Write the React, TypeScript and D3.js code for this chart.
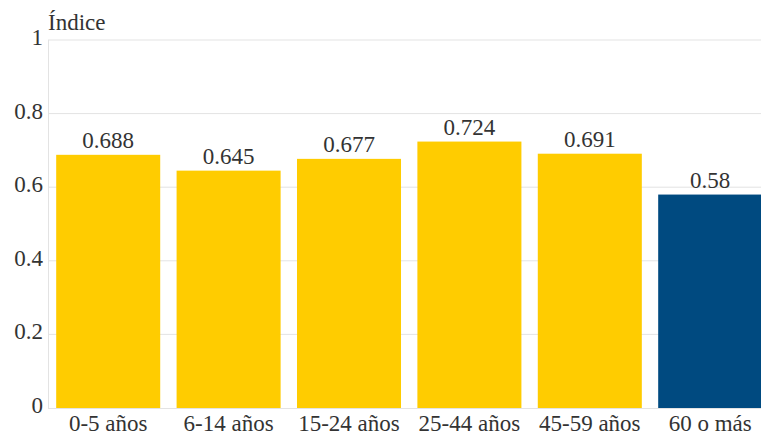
import React from "react";
import * as d3 from "d3";

const categories = ["0-5 años", "6-14 años", "15-24 años", "25-44 años", "45-59 años", "60 o más"];
const values = [0.688, 0.645, 0.677, 0.724, 0.691, 0.58];
const yTicks = [0, 0.2, 0.4, 0.6, 0.8, 1];
const tickLabels = ["0", "0.2", "0.4", "0.6", "0.8", "1"];
const colors = ["#FFCC00", "#FFCC00", "#FFCC00", "#FFCC00", "#FFCC00", "#004A80"];

const W = 761;
const H = 435;
const left = 48;
const right = 770.4;
const top = 40;
const bottom = 408;

const css = `
svg#indice-chart text.lbl { font-family: "Liberation Serif", "Times New Roman", serif !important; font-size: 23px !important; }
`;

export default function App() {
  const x = d3.scaleBand<string>().domain(categories).range([left, right]).paddingInner(0.136).paddingOuter(0.068);
  const y = d3.scaleLinear().domain([0, 1]).range([bottom, top]);
  return (
    <svg id="indice-chart" width={W} height={H} style={{ display: "block", position: "absolute", left: 0, top: 0 }}>
      <style>{css}</style>
      <rect width={W} height={H} fill="#fff" />
      {yTicks.map((t) =>
        t > 0 ? <line key={t} x1={left} x2={W} y1={y(t)} y2={y(t)} stroke="#e3e3e3" strokeWidth={1} /> : null
      )}
      <line x1={left + 0.5} x2={left + 0.5} y1={top} y2={bottom} stroke="#e3e3e3" />
      <line x1={left} x2={W} y1={bottom + 0.5} y2={bottom + 0.5} stroke="#e3e3e3" />
      {categories.map((c, i) => (
        <rect key={c} x={x(c)} y={y(values[i])} width={x.bandwidth()} height={bottom - y(values[i])} fill={colors[i]} />
      ))}
      <g fontFamily="Liberation Serif" fontSize={23} fill="#333">
        {yTicks.map((t, i) => (
          <text className="lbl" key={t} x={43} y={y(t) + 5} textAnchor="end">
            {tickLabels[i]}
          </text>
        ))}
        <text className="lbl" x={48} y={30}>Índice</text>
        {categories.map((c, i) => (
          <g key={c}>
            <text className="lbl" x={(x(c) as number) + x.bandwidth() / 2} y={y(values[i]) - 7} textAnchor="middle">
              {String(values[i])}
            </text>
            <text className="lbl" x={(x(c) as number) + x.bandwidth() / 2} y={431} textAnchor="middle">
              {c}
            </text>
          </g>
        ))}
      </g>
    </svg>
  );
}
